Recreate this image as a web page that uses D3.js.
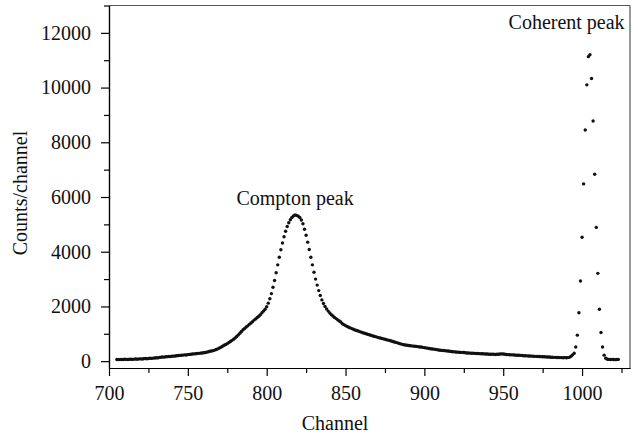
<!DOCTYPE html>
<html>
<head>
<meta charset="utf-8">
<script src="https://cdnjs.cloudflare.com/ajax/libs/d3/7.8.5/d3.min.js"></script>
<style>
  body { margin: 0; background: #fff; }
  .axis text { font-family: "Liberation Serif", "Times New Roman", "DejaVu Serif", serif; font-size: 20px; fill: #111; }
  .axis path, .axis line { stroke: #000; stroke-width: 1.2; }
  .label { font-family: "Liberation Serif", "Times New Roman", "DejaVu Serif", serif; font-size: 20px; fill: #111; }
</style>
</head>
<body>
<div id="spectrum"></div>
<script>
// counts per channel, one value for each channel starting at firstChannel
var firstChannel = 705;
var counts = [
  60, 55, 65, 58, 62, 70, 64, 60, 68, 72,
  66, 74, 80, 72, 85, 82, 78, 88, 95, 90,
  98, 105, 100, 112, 118, 125, 120, 140, 145, 150,
  148, 160, 165, 170, 168, 180, 185, 190, 200, 205,
  210, 215, 222, 230, 226, 240, 248, 255, 260, 268,
  272, 280, 285, 292, 300, 305, 318, 330, 345, 360,
  370, 385, 405, 425, 450, 480, 510, 545, 580, 610,
  640, 680, 720, 760, 800, 850, 900, 960, 1020, 1085,
  1150, 1195, 1250, 1290, 1345, 1395, 1440, 1500, 1545, 1595,
  1640, 1700, 1770, 1830, 1900, 1990, 2120, 2280, 2470, 2700,
  2950, 3230, 3520, 3800, 4070, 4320, 4550, 4750, 4920, 5060,
  5170, 5250, 5310, 5340, 5330, 5300, 5250, 5160, 5020, 4820,
  4600, 4350, 4080, 3800, 3520, 3250, 3000, 2780, 2580, 2400,
  2240, 2110, 2000, 1910, 1830, 1760, 1700, 1650, 1600, 1555,
  1510, 1470, 1430, 1370, 1335, 1300, 1270, 1240, 1215, 1190,
  1165, 1140, 1120, 1100, 1080, 1060, 1040, 1020, 1000, 985,
  965, 945, 930, 910, 895, 880, 860, 845, 830, 815,
  800, 785, 770, 755, 735, 720, 700, 685, 670, 650,
  630, 615, 600, 590, 580, 575, 565, 560, 550, 545,
  540, 530, 520, 515, 505, 495, 485, 475, 465, 455,
  445, 440, 430, 420, 410, 400, 395, 390, 385, 375,
  370, 360, 355, 345, 340, 335, 330, 325, 320, 320,
  315, 305, 300, 300, 295, 290, 290, 285, 280, 280,
  275, 270, 270, 265, 260, 260, 255, 250, 255, 250,
  245, 250, 255, 260, 265, 260, 250, 245, 240, 235,
  230, 230, 225, 220, 215, 215, 210, 205, 200, 200,
  195, 190, 190, 185, 180, 175, 175, 170, 170, 165,
  160, 160, 155, 150, 150, 145, 145, 140, 140, 135,
  135, 130, 130, 125, 130, 125, 130, 140, 180, 230,
  290, 520, 950, 1770, 2930, 4530, 6480, 8450, 10100, 11130,
  11200, 10330, 8780, 6830, 4890, 3210, 1900, 1050, 520, 220,
  110, 70, 65, 60, 65, 60, 55, 60, 65
];

var xMajor = [700, 750, 800, 850, 900, 950, 1000];
var xMinor = [725, 775, 825, 875, 925, 975, 1025];
var yMajor = [0, 2000, 4000, 6000, 8000, 10000, 12000];
var yMinor = [1000, 3000, 5000, 7000, 9000, 11000, 13000];

var peakLabels = [
  { text: "Compton peak", channel: 818, count: 5700, anchor: "middle" },
  { text: "Coherent peak", channel: 1027, count: 12150, anchor: "end" }
];

function init(){
    var w = 638;
    var h = 436;
    var left = 109, right = 630, top = 5.5, bottom = 368;

    var dataset = counts.map(function(c, i){
      return { channel: firstChannel + i, count: c };
    });

    var svg = d3.select("#spectrum")
      .append("svg")
      .attr("width", w)
      .attr("height", h);

    var xScale = d3.scaleLinear()
      .domain([700, 1030.4])
      .range([left, right]);

    var yScale = d3.scaleLinear()
      .domain([-250, 13000])
      .range([bottom, top]);

    // top and right frame
    svg.append("line")
      .attr("x1", left).attr("x2", right)
      .attr("y1", top).attr("y2", top)
      .style("stroke", "#555").style("stroke-width", 1.2);
    svg.append("line")
      .attr("x1", right).attr("x2", right)
      .attr("y1", top).attr("y2", bottom)
      .style("stroke", "#555").style("stroke-width", 1.2);

    // minor ticks
    svg.append("g")
      .attr("class", "axis")
      .attr("transform", "translate(0," + bottom + ")")
      .call(d3.axisBottom(xScale).tickValues(xMinor).tickSize(5).tickSizeOuter(0).tickFormat(""));
    svg.append("g")
      .attr("class", "axis")
      .attr("transform", "translate(" + left + ",0)")
      .call(d3.axisLeft(yScale).tickValues(yMinor).tickSize(5).tickSizeOuter(0).tickFormat(""));

    // major ticks with labels
    var xAxis = d3.axisBottom(xScale).tickValues(xMajor).tickSize(8).tickSizeOuter(0).tickPadding(10)
      .tickFormat(d3.format("d"));
    var yAxis = d3.axisLeft(yScale).tickValues(yMajor).tickSize(8).tickSizeOuter(0).tickPadding(10)
      .tickFormat(d3.format("d"));

    svg.append("g")
      .attr("class", "axis")
      .attr("transform", "translate(0," + bottom + ")")
      .call(xAxis);

    svg.append("g")
      .attr("class", "axis")
      .attr("transform", "translate(" + left + ",0)")
      .call(yAxis);

    svg.selectAll(".axis").attr("font-family", null).attr("font-size", null);

    // data points
    svg.append("g")
      .selectAll("circle")
      .data(dataset)
      .enter()
      .append("circle")
      .attr("cx", function(d){ return xScale(d.channel); })
      .attr("cy", function(d){ return yScale(d.count); })
      .attr("r", 1.7)
      .style("fill", "#111");

    // annotations
    svg.selectAll(".peak")
      .data(peakLabels)
      .enter()
      .append("text")
      .attr("class", "label")
      .attr("x", function(d){ return xScale(d.channel); })
      .attr("y", function(d){ return yScale(d.count); })
      .attr("text-anchor", function(d){ return d.anchor; })
      .text(function(d){ return d.text; });

    svg.append("text")
      .attr("class", "label")
      .attr("x", 335)
      .attr("y", 430)
      .attr("text-anchor", "middle")
      .text("Channel");

    svg.append("text")
      .attr("class", "label")
      .attr("transform", "translate(27,193) rotate(-90)")
      .attr("text-anchor", "middle")
      .text("Counts/channel");
}

window.onload = init;
</script>
</body>
</html>
